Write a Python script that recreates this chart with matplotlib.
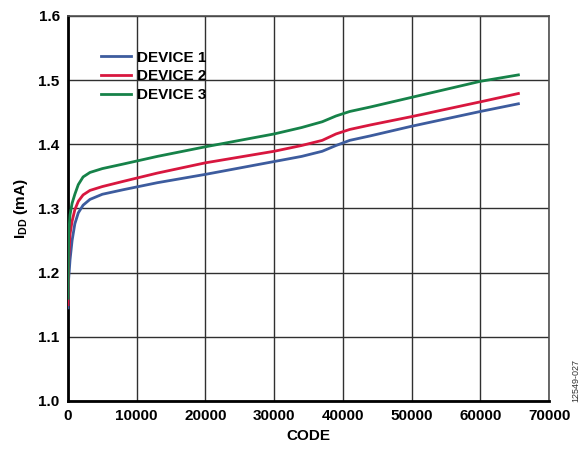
import matplotlib
matplotlib.use('Agg')
import matplotlib.pyplot as plt

plt.rcParams['font.family'] = ['Liberation Sans', 'DejaVu Sans']
plt.rcParams['mathtext.fontset'] = 'custom'
plt.rcParams['mathtext.rm'] = 'Liberation Sans:bold'
plt.rcParams['mathtext.bf'] = 'Liberation Sans:bold'

# 데이터
code = [0, 100, 300, 600, 1000, 1500, 2200, 3200, 5000, 8000, 13000, 20000, 30000,
        34000, 37000, 39000, 41000, 44000, 50000, 60000, 65535]
dev1 = [1.145, 1.19, 1.22, 1.25, 1.276, 1.293, 1.305, 1.314, 1.322, 1.329, 1.340,
        1.353, 1.373, 1.381, 1.389, 1.398, 1.406, 1.413, 1.428, 1.451, 1.463]
dev2 = [1.150, 1.22, 1.26, 1.28, 1.298, 1.311, 1.321, 1.328, 1.334, 1.342, 1.355,
        1.371, 1.389, 1.398, 1.406, 1.416, 1.423, 1.430, 1.443, 1.466, 1.479]
dev3 = [1.160, 1.26, 1.29, 1.308, 1.322, 1.337, 1.349, 1.356, 1.362, 1.369, 1.381,
        1.396, 1.416, 1.426, 1.435, 1.444, 1.451, 1.458, 1.473, 1.498, 1.508]
labels = ['DEVICE 1', 'DEVICE 2', 'DEVICE 3']
colors = ['#3d5c9e', '#d8173f', '#168249']
xticks = [0, 10000, 20000, 30000, 40000, 50000, 60000, 70000]
yticks = [1.0, 1.1, 1.2, 1.3, 1.4, 1.5, 1.6]

fig = plt.figure(figsize=(5.86, 4.53), dpi=100)
ax = fig.add_axes([0.116, 0.115, 0.821, 0.85])

for y, lab, c in zip([dev1, dev2, dev3], labels, colors):
    ax.plot(code, y, color=c, lw=2.0, label=lab, zorder=4)

ax.set_xlim(0, 70000)
ax.set_ylim(1.0, 1.6)
ax.set_xticks(xticks)
ax.set_yticks(yticks)
ax.set_xticklabels([str(v) for v in xticks], fontsize=11, fontweight='bold')
ax.set_yticklabels(['%.1f' % v for v in yticks], fontsize=11, fontweight='bold')
ax.tick_params(length=0, pad=6)
ax.grid(True, color='#303030', lw=1.0, zorder=1)
ax.set_axisbelow(True)
for s in ['top', 'right']:
    ax.spines[s].set_color('#505050')
    ax.spines[s].set_linewidth(1.2)
for s in ['bottom', 'left']:
    ax.spines[s].set_color('black')
    ax.spines[s].set_linewidth(2.0)

ax.set_xlabel('CODE', fontsize=11, fontweight='bold', labelpad=4)
ax.set_ylabel(r'I$_{\mathbf{DD}}$ (mA)', fontsize=11, fontweight='bold', labelpad=6)

leg = ax.legend(loc='upper left', bbox_to_anchor=(0.055, 0.925), frameon=False,
                fontsize=11, handlelength=2.0, handletextpad=0.4,
                labelspacing=0.3, borderaxespad=0)
for t in leg.get_texts():
    t.set_fontweight('bold')

fig.text(0.982, 0.16, '12549-027', rotation=90, fontsize=6.5, color='#333333',
         ha='center', va='center')

fig.savefig('out.png', dpi=100)
